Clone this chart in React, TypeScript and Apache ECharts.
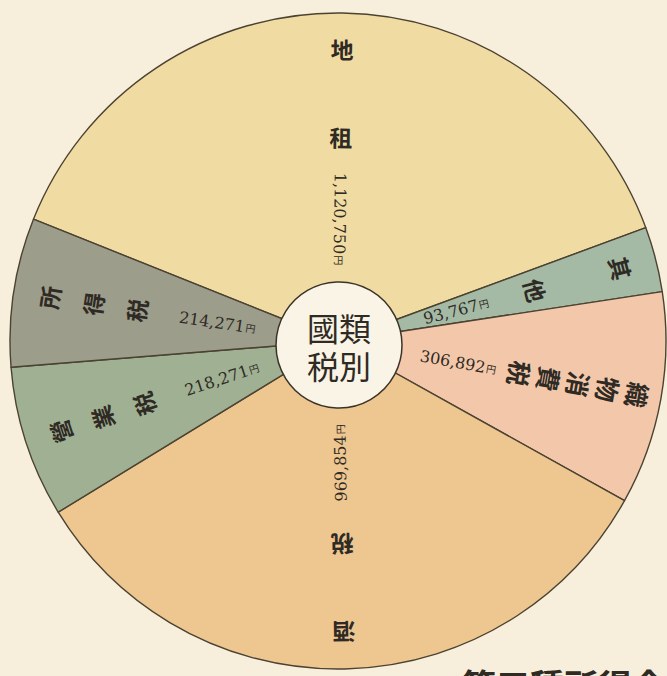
import React, { useEffect, useRef } from 'react';
import * as echarts from 'echarts';

// ---- data ----
const categories: string[] = ['地租', '其他', '織物消費税', '酒税', '營業税', '所得税'];
const values: number[] = [1120750, 93767, 306892, 969854, 218271, 214271];
const unit = '円';
const centerTitle: string[] = ['國類', '税別'];
const footerText = '第三種所得金';

// ---- style ----
const W = 667;
const H = 676;
const CX = 338;
const CY = 341;
const R = 328;
const START = 158.2;
const colors = ['#f0dca2', '#a5baa5', '#f3c8aa', '#eec690', '#a0b193', '#9d9d8b'];
const BG = '#f7eedb';
const INK = '#2f2a24';

export default function App() {
  const ref = useRef<HTMLDivElement>(null);

  useEffect(() => {
    document.body.style.margin = '0';
    const chart = echarts.init(ref.current!, null, { renderer: 'svg', width: W, height: H });
    const total = values.reduce((a, b) => a + b, 0);
    const graphics: any[] = [];
    let cum = 0;
    values.forEach((v, i) => {
      const a0 = START - (cum / total) * 360;
      cum += v;
      const a1 = START - (cum / total) * 360;
      const mid = (a0 + a1) / 2;
      const rad = (mid * Math.PI) / 180;
      const chars = Array.from(categories[i]);
      const n = chars.length;
      let rOut: number;
      let step: number;
      let fs: number;
      if (n <= 3) {
        rOut = 292;
        step = n > 1 ? 88 / (n - 1) : 0;
        fs = 23;
      } else {
        rOut = 305;
        step = 30;
        fs = 25;
      }
      chars.forEach((ch, k) => {
        const r = rOut - k * step;
        graphics.push({
          type: 'text',
          x: CX + r * Math.cos(rad),
          y: CY - r * Math.sin(rad),
          rotation: ((mid - 90) * Math.PI) / 180,
          z: 10,
          style: {
            text: ch,
            fontFamily: 'Noto Sans CJK JP',
            fontWeight: 'bold',
            fontSize: fs,
            fill: INK,
            align: 'center',
            verticalAlign: 'middle',
          },
        });
      });
      // value label, along the radius
      let rot = mid + 180;
      while (rot > 180) rot -= 360;
      while (rot <= -180) rot += 360;
      if (Math.abs(rot) > 100) {
        rot -= 180;
        while (rot <= -180) rot += 360;
      }
      const rv = 122;
      graphics.push({
        type: 'text',
        x: CX + rv * Math.cos(rad),
        y: CY - rv * Math.sin(rad),
        rotation: (rot * Math.PI) / 180,
        z: 10,
        style: {
          text: `{n|${v.toLocaleString('en-US')}}{y|${unit}}`,
          align: 'center',
          verticalAlign: 'middle',
          rich: {
            n: { fontFamily: 'DejaVu Serif', fontSize: 16, fill: INK },
            y: { fontFamily: 'Noto Sans CJK JP', fontSize: 10, fill: INK, padding: [0, 0, 0, 1] },
          },
        },
      });
    });

    graphics.push({
      type: 'circle',
      z: 20,
      shape: { cx: 339, cy: 345, r: 63 },
      style: { fill: '#f9f4e6', stroke: '#3b3329', lineWidth: 1.5 },
    });
    graphics.push({
      type: 'text',
      z: 21,
      x: 339,
      y: 346,
      style: {
        text: centerTitle.join('\n'),
        fontFamily: 'Noto Sans CJK JP',
        fontSize: 32,
        lineHeight: 38,
        fill: INK,
        align: 'center',
        verticalAlign: 'middle',
      },
    });
    graphics.push({
      type: 'text',
      z: 21,
      x: 462,
      y: 667,
      style: {
        text: footerText,
        fontFamily: 'Noto Sans CJK JP',
        fontWeight: 'bold',
        fontSize: 34,
        fill: INK,
        align: 'left',
        verticalAlign: 'top',
      },
    });

    chart.setOption({
      animation: false,
      backgroundColor: BG,
      series: [
        {
          type: 'pie',
          center: [CX, CY],
          radius: [0, R],
          startAngle: START,
          clockwise: true,
          silent: true,
          label: { show: false },
          labelLine: { show: false },
          itemStyle: { borderColor: '#4b4232', borderWidth: 1.4 },
          data: categories.map((c, i) => ({ name: c, value: values[i], itemStyle: { color: colors[i] } })),
        },
      ],
      graphic: graphics,
    });
    return () => chart.dispose();
  }, []);

  return <div ref={ref} style={{ position: 'fixed', left: 0, top: 0, width: W, height: H }} />;
}
